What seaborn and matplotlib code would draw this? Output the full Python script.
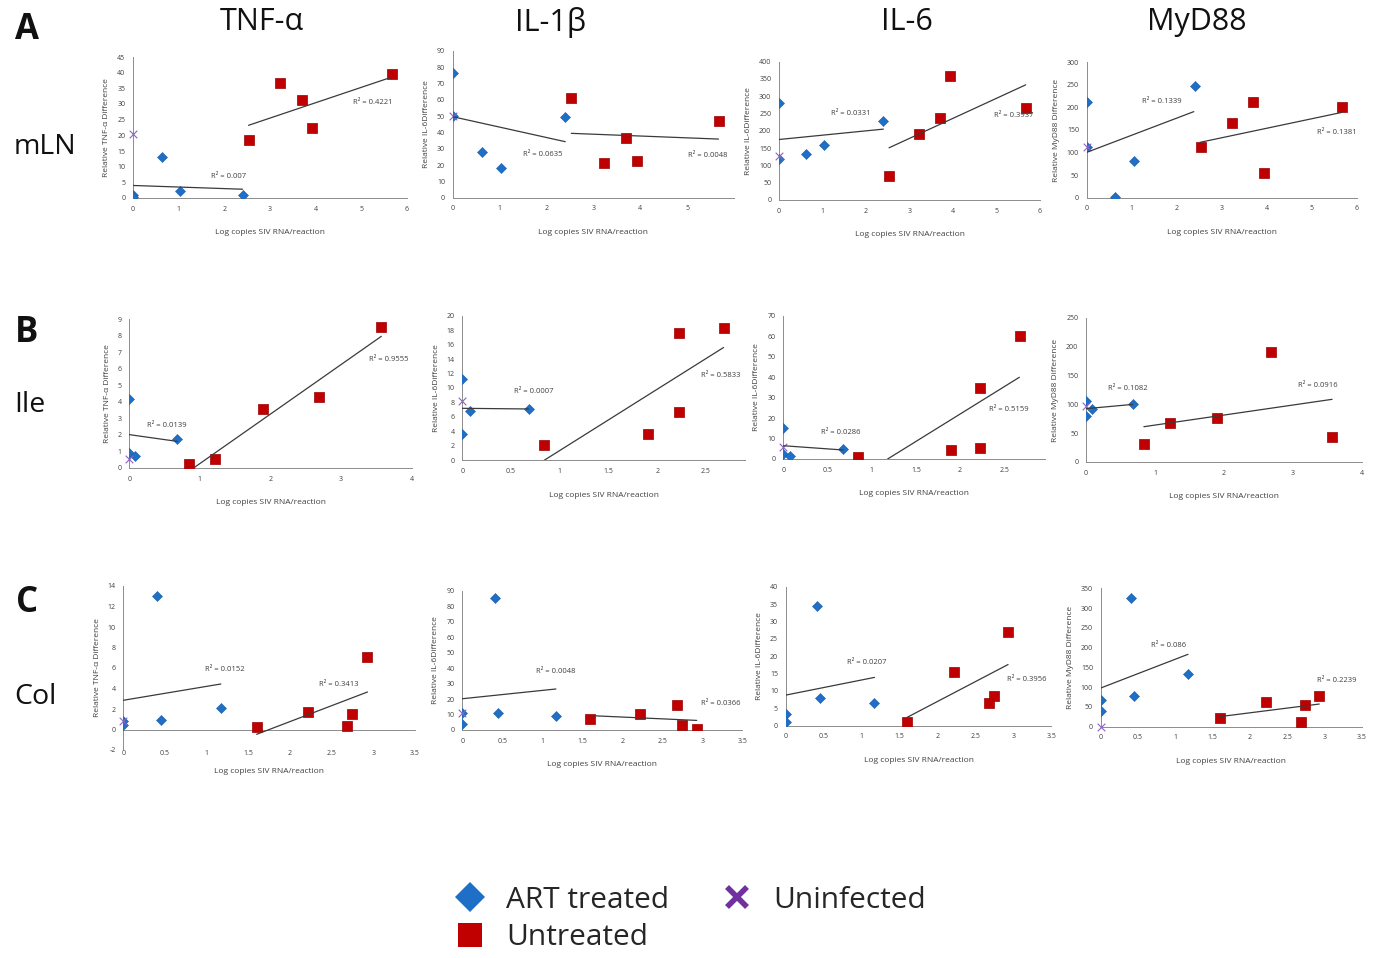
import numpy as np
import pandas as pd
import matplotlib
matplotlib.use("Agg")
import matplotlib.pyplot as plt
from matplotlib.lines import Line2D
from matplotlib.ticker import FuncFormatter
import seaborn as sns

# ---------------- data ----------------
GENES = ["TNF-α", "IL-1β", "IL-6", "MyD88"]
TISSUES = ["mLN", "Ile", "Col"]
ROW_LETTERS = ["A", "B", "C"]
Y_LABELS = ["Relative TNF-α Difference", "Relative IL-6Difference",
            "Relative IL-6Difference", "Relative MyD88 Difference"]
X_LABEL = "Log copies SIV RNA/reaction"
GROUPS = ["ART treated", "Untreated", "Uninfected"]

# mLN
MLN_ART_X = [0, 0, 0.63, 1.04, 2.40]
MLN_UNT_X = [2.53, 3.22, 3.69, 3.93, 5.67]
MLN_TNF_ART = [1.0, 0.4, 13.0, 2.2, 0.8]
MLN_TNF_UNT = [18.5, 36.6, 31.2, 22.4, 39.5]
MLN_TNF_UNINF = 20.5
MLN_IL1B_ART = [76.5, 50.0, 28.0, 18.2, 49.6]
MLN_IL1B_UNT = [61.2, 21.4, 36.7, 22.2, 46.9]
MLN_IL1B_UNINF = 50.0
MLN_IL6_ART = [281, 118, 134, 160, 229]
MLN_IL6_UNT = [70, 192, 238, 360, 267]
MLN_IL6_UNINF = 128
MLN_MYD_ART = [213, 113, 1, 81, 248]
MLN_MYD_UNT = [113, 166, 213, 55, 202]
MLN_MYD_UNINF = 113

# Ile
ILE_ART_X = [0, 0, 0.08, 0.68]
ILE_UNT_X1 = [0.84, 1.22, 1.90, 2.68, 3.57]
ILE_UNT_X2 = [0.84, 1.90, 2.22, 2.22, 2.68]
ILE_TNF_ART = [4.2, 0.89, 0.75, 1.74]
ILE_TNF_UNT = [0.26, 0.54, 3.55, 4.32, 8.51]
ILE_TNF_UNINF = 0.54
ILE_IL1B_ART = [11.2, 3.7, 6.8, 7.1]
ILE_IL1B_UNT = [2.07, 3.6, 17.6, 6.7, 18.3]
ILE_IL1B_UNINF = 8.25
ILE_IL6_ART = [15.3, 2.6, 1.3, 5.06]
ILE_IL6_UNT = [1.14, 4.57, 34.6, 5.5, 60.0]
ILE_IL6_UNINF = 5.7
ILE_MYD_ART = [106, 80, 92, 100]
ILE_MYD_UNT = [31, 67, 76, 191, 43]
ILE_MYD_UNINF = 97

# Col
COL_ART_X = [0, 0, 0.41, 0.45, 1.17]
COL_UNT_X = [1.60, 2.22, 2.68, 2.74, 2.93]
COL_TNF_ART = [0.8, 0.4, 13.0, 0.89, 2.1]
COL_TNF_UNT = [0.21, 1.67, 0.31, 1.48, 7.07]
COL_TNF_UNINF = 0.8
COL_IL1B_ART = [3.9, 10.8, 85.5, 10.8, 9.0]
COL_IL1B_UNT = [6.9, 10.3, 16.1, 3.0, 0.86]
COL_IL1B_UNINF = 10.8
COL_IL6_ART = [3.36, 1.15, 34.5, 7.87, 6.6]
COL_IL6_UNT = [1.15, 15.5, 6.6, 8.6, 27.0]
COL_IL6_UNINF = None
COL_MYD_ART = [66.6, 39.6, 324.6, 78.4, 133]
COL_MYD_UNT = [21.9, 62.4, 12.6, 54.8, 78.4]
COL_MYD_UNINF = 0

# trend lines (x0, y0, x1, y1)
TREND_ART = [
    [(0, 4.0, 2.4, 2.8), (0, 49.6, 2.4, 34.3), (0, 175, 2.4, 205), (0, 100.5, 2.38, 190.7)],
    [(0, 2.02, 0.68, 1.61), (0, 7.19, 0.68, 7.1), (0, 6.5, 0.68, 4.4), (0, 92.6, 0.68, 100)],
    [(0, 2.85, 1.17, 4.44), (0, 20.2, 1.17, 26.5), (0, 8.8, 1.17, 13.9), (0, 97.8, 1.17, 183)],
]
TREND_UNT = [
    [(2.53, 23.2, 5.67, 38.6), (2.53, 39.4, 5.67, 35.9), (2.53, 151, 5.67, 333), (2.52, 122.7, 5.67, 189)],
    [(0.91, 0, 3.57, 7.97), (0.84, 0, 2.68, 15.6), (1.18, 0, 2.67, 40), (0.84, 61.3, 3.57, 108.8)],
    [(1.6, -0.47, 2.93, 3.66), (1.6, 9.3, 2.93, 6.2), (1.6, 2.4, 2.93, 17.6), (1.59, 25.3, 2.93, 57.3)],
]
R2_ART = [["0.007", "0.0635", "0.0331", "0.1339"],
          ["0.0139", "0.0007", "0.0286", "0.1082"],
          ["0.0152", "0.0048", "0.0207", "0.086"]]
R2_UNT = [["0.4221", "0.0048", "0.3937", "0.1381"],
          ["0.9555", "0.5833", "0.5159", "0.0916"],
          ["0.3413", "0.0366", "0.3956", "0.2239"]]

Y_TICKS = [[(0, 45, 5), (0, 90, 10), (0, 400, 50), (0, 300, 50)],
           [(0, 9, 1), (0, 20, 2), (0, 70, 10), (0, 250, 50)],
           [(-2, 14, 2), (0, 90, 10), (0, 40, 5), (0, 350, 50)]]
X_TICKS = [[(0, 6, 1), (0, 5, 1), (0, 6, 1), (0, 6, 1)],
           [(0, 4, 1), (0, 2.5, 0.5), (0, 2.5, 0.5), (0, 4, 1)],
           [(0, 3.5, 0.5), (0, 3.5, 0.5), (0, 3.5, 0.5), (0, 3.5, 0.5)]]
X_MAX = [[6, 6, 6, 6], [4, 2.9, 2.96, 4], [3.5, 3.5, 3.5, 3.5]]

PANELS = [
    [(MLN_ART_X, MLN_TNF_ART, MLN_UNT_X, MLN_TNF_UNT, MLN_TNF_UNINF),
     (MLN_ART_X, MLN_IL1B_ART, MLN_UNT_X, MLN_IL1B_UNT, MLN_IL1B_UNINF),
     (MLN_ART_X, MLN_IL6_ART, MLN_UNT_X, MLN_IL6_UNT, MLN_IL6_UNINF),
     (MLN_ART_X, MLN_MYD_ART, MLN_UNT_X, MLN_MYD_UNT, MLN_MYD_UNINF)],
    [(ILE_ART_X, ILE_TNF_ART, ILE_UNT_X1, ILE_TNF_UNT, ILE_TNF_UNINF),
     (ILE_ART_X, ILE_IL1B_ART, ILE_UNT_X2, ILE_IL1B_UNT, ILE_IL1B_UNINF),
     (ILE_ART_X, ILE_IL6_ART, ILE_UNT_X2, ILE_IL6_UNT, ILE_IL6_UNINF),
     (ILE_ART_X, ILE_MYD_ART, ILE_UNT_X1, ILE_MYD_UNT, ILE_MYD_UNINF)],
    [(COL_ART_X, COL_TNF_ART, COL_UNT_X, COL_TNF_UNT, COL_TNF_UNINF),
     (COL_ART_X, COL_IL1B_ART, COL_UNT_X, COL_IL1B_UNT, COL_IL1B_UNINF),
     (COL_ART_X, COL_IL6_ART, COL_UNT_X, COL_IL6_UNT, COL_IL6_UNINF),
     (COL_ART_X, COL_MYD_ART, COL_UNT_X, COL_MYD_UNT, COL_MYD_UNINF)],
]

# ---------------- layout / style ----------------
W, H = 1384, 958
AX_PX = [  # left, right, top, bottom (pixels)
    [(133, 407, 57, 198), (452.7, 734, 50.7, 197.7), (779, 1040, 61.7, 200), (1086.7, 1356.7, 62.3, 197.7)],
    [(129.3, 411.7, 319.3, 468), (462.3, 745, 315.7, 460.3), (783.3, 1045, 316, 459), (1086, 1361.7, 318, 462)],
    [(123.3, 415, 586, 750), (462.3, 742.3, 590.7, 730), (785.7, 1051.3, 586.7, 725.7), (1100.7, 1361.7, 588.3, 726.7)],
]
R2_ART_POS = [[(2.1, 7), (1.93, 26.7), (1.65, 250), (1.67, 214)],
              [(0.53, 2.58), (0.735, 9.5), (0.65, 12.9), (0.61, 128)],
              [(1.22, 5.9), (1.17, 37.7), (1.07, 18.1), (0.91, 205.7)]]
R2_UNT_POS = [[(5.25, 30.6), (5.43, 26), (5.4, 243), (5.56, 145)],
              [(3.67, 6.54), (2.65, 11.75), (2.55, 24.3), (3.36, 132.5)],
              [(2.58, 4.4), (3.23, 16.8), (3.18, 13.3), (3.16, 118)]]
TITLE_X = [262, 551, 907, 1197]
ROW_LETTER_Y = [30, 333, 603]
ROW_NAME_POS = [(45, 147), (30, 405), (35, 697)]

BLUE = "#1F6FC6"
RED = "#C00000"
PURPLE = "#8A63C0"
PURPLE_LEG = "#7030A0"
SPINE = "#8C8C8C"
TXT = "#404040"

sns.set_theme(style="white")
plt.rcParams["font.family"] = ["Open Sans", "DejaVu Sans"]

fig = plt.figure(figsize=(W / 100, H / 100), dpi=100)


def rect(l, r, t, b):
    return [l / W, 1 - b / H, (r - l) / W, (b - t) / H]


fmt = FuncFormatter(lambda v, p: f"{v:g}")

for i in range(3):
    for j in range(4):
        art_x, art_y, unt_x, unt_y, uninf = PANELS[i][j]
        ax = fig.add_axes(rect(*AX_PX[i][j]))
        df_art = pd.DataFrame({"x": art_x, "y": art_y, "group": GROUPS[0]})
        df_unt = pd.DataFrame({"x": unt_x, "y": unt_y, "group": GROUPS[1]})
        sns.scatterplot(data=df_art, x="x", y="y", marker="D", color=BLUE, s=26,
                        edgecolor="#1A5FAF", linewidth=0.4, ax=ax, legend=False, zorder=3)
        sns.scatterplot(data=df_unt, x="x", y="y", marker="s", color=RED, s=44,
                        edgecolor="#990000", linewidth=0.5, ax=ax, legend=False, zorder=3)
        if uninf is not None:
            df_un = pd.DataFrame({"x": [0], "y": [uninf], "group": GROUPS[2]})
            sns.scatterplot(data=df_un, x="x", y="y", marker="x", color=PURPLE, s=30,
                            linewidth=0.8, ax=ax, legend=False, zorder=4, clip_on=False)
        for tr in (TREND_ART[i][j], TREND_UNT[i][j]):
            ax.plot([tr[0], tr[2]], [tr[1], tr[3]], color="#3A3A3A", lw=0.9, zorder=5)
        ax.text(*R2_ART_POS[i][j], f"R² = {R2_ART[i][j]}", fontsize=5.5, color=TXT,
                ha="center", va="center", clip_on=False)
        ax.text(*R2_UNT_POS[i][j], f"R² = {R2_UNT[i][j]}", fontsize=5.5, color=TXT,
                ha="center", va="center", clip_on=False)

        y0, y1, ys = Y_TICKS[i][j]
        x0, x1, xs = X_TICKS[i][j]
        ax.set_ylim(y0, y1)
        ax.set_xlim(0, X_MAX[i][j])
        ax.set_yticks(np.arange(y0, y1 + ys / 2, ys))
        ax.set_xticks(np.arange(x0, x1 + xs / 2, xs))
        ax.xaxis.set_major_formatter(fmt)
        ax.yaxis.set_major_formatter(fmt)
        for s in ("top", "right"):
            ax.spines[s].set_visible(False)
        for s in ("left", "bottom"):
            ax.spines[s].set_color(SPINE)
            ax.spines[s].set_linewidth(0.7)
        if i == 2 and j == 0:
            ax.spines["bottom"].set_position(("data", 0))
        ax.tick_params(axis="both", which="major", direction="out", length=2.5, width=0.6,
                       color=SPINE, labelsize=5, labelcolor=TXT, pad=3)
        if i == 2 and j == 0:
            ax.tick_params(axis="x", pad=12)
        ax.set_xlabel(X_LABEL, fontsize=6, color=TXT, labelpad=8 if (i == 2 and j == 0) else 12)
        ax.set_ylabel(Y_LABELS[j], fontsize=6, color=TXT, labelpad=5)
        ax.grid(False)
        ax.set_facecolor("none")

for j, g in enumerate(GENES):
    fig.text(TITLE_X[j] / W, 1 - 22 / H, g, fontsize=22, ha="center", va="center", color="#111111")
for i in range(3):
    fig.text(27 / W, 1 - ROW_LETTER_Y[i] / H, ROW_LETTERS[i], fontsize=25, fontweight="bold",
             ha="center", va="center", color="#111111")
    fig.text(ROW_NAME_POS[i][0] / W, 1 - ROW_NAME_POS[i][1] / H, TISSUES[i], fontsize=20.5,
             ha="center", va="center", color="#111111")

handles = [
    Line2D([], [], marker="D", ls="none", color=BLUE, markersize=15, markeredgewidth=0),
    Line2D([], [], marker="s", ls="none", color=RED, markersize=17, markeredgewidth=0),
    Line2D([], [], marker="x", ls="none", color=PURPLE_LEG, markersize=15, markeredgewidth=4),
]
fig.legend(handles, GROUPS, loc="center", bbox_to_anchor=(689 / W, 1 - 919 / H), ncol=2,
           frameon=False, fontsize=21.5, handletextpad=0.6, columnspacing=1.67,
           labelspacing=0.3, handlelength=1.2, borderpad=0)

fig.savefig("out.png", dpi=100)
